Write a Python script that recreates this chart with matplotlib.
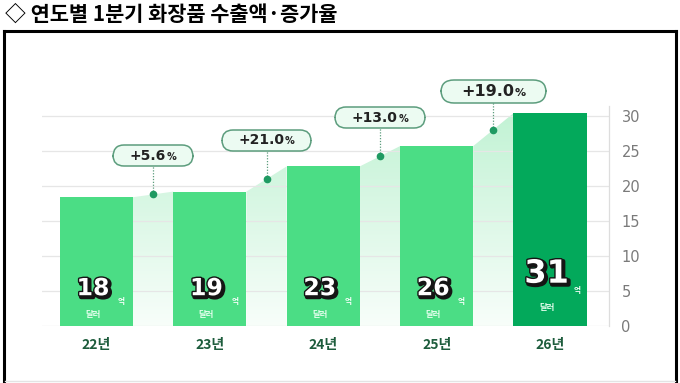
import numpy as np
import matplotlib
matplotlib.use("Agg")
import matplotlib.pyplot as plt
import matplotlib.patheffects as pe
from matplotlib.colors import LinearSegmentedColormap
from matplotlib.patches import Polygon
from matplotlib.lines import Line2D
from matplotlib.offsetbox import TextArea, HPacker, DrawingArea, AnnotationBbox

plt.rcParams['font.family'] = ['Noto Sans CJK KR', 'DejaVu Sans']

years = ['22년', '23년', '24년', '25년', '26년']
export_vals = [18.4, 19.2, 22.8, 25.7, 30.4]
value_labels = ['18', '19', '23', '26', '31']
growth_labels = ['+5.6', '+21.0', '+13.0', '+19.0']

bar_color = '#4bdd85'
last_color = '#03a95b'
box_edge = '#5c9d7d'
dot_color = '#1f9a62'
width = 0.645

fig = plt.figure(figsize=(6.8, 3.83), dpi=100)
ax = fig.add_axes([42 / 680, 57 / 383, 567 / 680, 220.5 / 383])

x = np.arange(len(years))

# gradient fills between the bars
cmap = LinearSegmentedColormap.from_list('g', ['#f8fefa', '#c0f2d3'])
grad = np.linspace(0, 1, 256).reshape(-1, 1)
for i in range(len(x) - 1):
    x0 = x[i] + width / 2
    x1 = x[i + 1] - width / 2
    poly = Polygon([(x0, 0), (x0, export_vals[i]), (x1, export_vals[i + 1]), (x1, 0)],
                   closed=True, fc='none', ec='none')
    ax.add_patch(poly)
    im = ax.imshow(grad, extent=(x0, x1, 0, 31.5), origin='lower', cmap=cmap,
                   aspect='auto', zorder=1)
    im.set_clip_path(poly)

ax.set_aspect('auto')
ax.set_xlim(-0.48, 4.52)
ax.set_ylim(0, 31.5)

ax.yaxis.grid(True, color='#e6e6e6', lw=0.9)
for gl in ax.get_ygridlines():
    gl.set_zorder(1.5)

colors = [bar_color] * (len(x) - 1) + [last_color]
ax.bar(x, export_vals, width=width, color=colors, zorder=2)

# growth markers and labels
for i, g in enumerate(growth_labels):
    mx = x[i] + 0.5
    my = (export_vals[i] + export_vals[i + 1]) / 2
    ly = my + 5.5
    big = i == len(growth_labels) - 1
    fs = 11.5 if big else 10
    ax.plot([mx, mx], [my, ly], color=box_edge, lw=0.9, ls=(0, (1, 1.3)), zorder=3,
            clip_on=False)
    ax.plot(mx, my, 'o', color=dot_color, ms=4.5, zorder=4)
    sp = 11 if big else 9
    pack = HPacker(children=[DrawingArea(sp, 1),
                             TextArea(g, textprops=dict(fontsize=fs, fontweight='bold',
                                                        color='#222222', family='DejaVu Sans')),
                             TextArea('%', textprops=dict(fontsize=fs * 0.7, fontweight='bold',
                                                          color='#222222', family='DejaVu Sans')),
                             DrawingArea(sp, 1)],
                   align='baseline', pad=0, sep=0.5)
    ab = AnnotationBbox(pack, (mx, ly), xycoords='data', frameon=True, pad=0.25,
                        fontsize=fs,
                        bboxprops=dict(boxstyle='round,pad=0.25,rounding_size=0.8',
                                       fc='#ecfbf2', ec=box_edge, lw=1.1),
                        zorder=5, annotation_clip=False)
    ax.add_artist(ab)

# values inside the bars
outline = [pe.Stroke(linewidth=3.2, foreground='#151515', offset=(1.3, -1.3)),
           pe.Stroke(linewidth=2, foreground='#151515'), pe.Normal()]
for i, lab in enumerate(value_labels):
    last = i == len(value_labels) - 1
    ny = 7.4 if last else 5.4
    dy = 2.6 if last else 1.6
    fs = 23 if last else 17
    ax.text(x[i] - 0.03, ny, lab, ha='center', va='center', fontsize=fs,
            fontweight='bold', color='white', family='DejaVu Sans',
            path_effects=outline, zorder=6)
    ax.text(x[i] + (0.24 if last else 0.22), ny - (2.4 if last else 1.9), '억',
            ha='center', va='center', fontsize=5.5, fontweight='bold', color='white', zorder=6)
    ax.text(x[i] - 0.03, dy, '달러', ha='center', va='center', fontsize=6,
            fontweight='bold', color='#e8fff0', zorder=6)

ax.set_xticks(x)
ax.set_xticklabels(years, fontsize=10, fontweight='bold', color='#1d5c3c')
ax.tick_params(axis='x', length=0, pad=9)
ax.yaxis.tick_right()
ax.set_yticks([0, 5, 10, 15, 20, 25, 30])
ax.tick_params(axis='y', length=0, pad=9, labelsize=10.5, labelcolor='#7a7a7a')
for lab in ax.get_yticklabels():
    lab.set_family('DejaVu Sans')
for s in ['top', 'left', 'bottom']:
    ax.spines[s].set_visible(False)
ax.spines['right'].set_color('#dddddd')
ax.spines['right'].set_linewidth(0.9)

# title and frame
fig.text(5 / 680, 1 - 14 / 383, '◇ 연도별 1분기 화장품 수출액·증가율', ha='left', va='center',
         fontsize=15, fontweight='bold', color='black')
W, H = 680, 383
fig.add_artist(Line2D([4 / W, 4 / W], [0, 1 - 31 / H], color='black', lw=2.2,
                      transform=fig.transFigure))
fig.add_artist(Line2D([4 / W, 676 / W], [1 - 31 / H, 1 - 31 / H], color='black', lw=2.2,
                      transform=fig.transFigure))
fig.add_artist(Line2D([676 / W, 676 / W], [0, 1 - 31 / H], color='black', lw=2.2,
                      transform=fig.transFigure))
fig.add_artist(Line2D([5 / W, 675 / W], [2 / H, 2 / H], color='#e4e4e4', lw=1,
                      transform=fig.transFigure))

fig.savefig('out.png', dpi=100)
